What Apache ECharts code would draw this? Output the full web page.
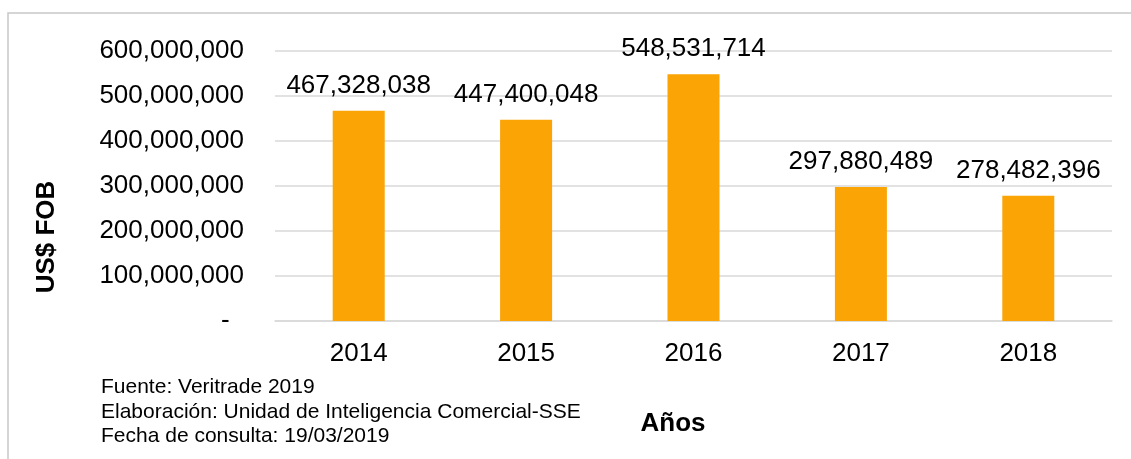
<!DOCTYPE html>
<html>
<head>
<meta charset="utf-8">
<script src="https://cdn.jsdelivr.net/npm/echarts@6/dist/echarts.min.js"></script>
<style>
  html, body { margin: 0; padding: 0; background: #fff; }
  #chart { width: 1131px; height: 459px; }
</style>
</head>
<body>
<div id="chart"></div>
<script>
// Exportaciones por año (US$ FOB)
var years = ['2014', '2015', '2016', '2017', '2018'];
var values = [467328038, 447400048, 548531714, 297880489, 278482396];
var yTicks = { min: 0, max: 600000000, interval: 100000000 };
var notes = [
  'Fuente: Veritrade 2019',
  'Elaboración: Unidad de Inteligencia Comercial-SSE',
  'Fecha de consulta: 19/03/2019'
];

function fmt(v) {
  if (v === 0) return '-  ';
  return String(v).replace(/\B(?=(\d{3})+(?!\d))/g, ',');
}

var chart = echarts.init(document.getElementById('chart'));
var font = 'Arial, "Liberation Sans", sans-serif';

chart.setOption({
  animation: false,
  textStyle: { fontFamily: font },
  grid: { left: 275, right: 19, top: 51, bottom: 138 },
  xAxis: {
    type: 'category',
    data: years,
    axisLine: { lineStyle: { color: '#D9D9D9', width: 1.5 } },
    axisTick: { show: false },
    axisLabel: { color: '#000', fontSize: 26, margin: 20, fontFamily: font }
  },
  yAxis: {
    type: 'value',
    min: yTicks.min, max: yTicks.max, interval: yTicks.interval,
    axisLine: { show: false },
    axisTick: { show: false },
    splitLine: { lineStyle: { color: '#D9D9D9', width: 1.5 } },
    axisLabel: { color: '#000', fontSize: 26, margin: 31, fontFamily: font, formatter: fmt }
  },
  series: [{
    type: 'bar',
    data: values,
    barWidth: 52,
    itemStyle: { color: '#FAA405' },
    label: {
      show: true, position: 'top', distance: 12,
      color: '#000', fontSize: 26, fontFamily: font,
      formatter: function (p) { return fmt(p.value); }
    }
  }],
  graphic: [
    { type: 'rect', shape: { x: 8, y: 13, width: 1300, height: 600 }, style: { fill: 'none', stroke: '#C8C8C8', lineWidth: 1.5 }, silent: true },
    { type: 'text', x: 47, y: 237, rotation: Math.PI / 2,
      style: { text: 'US$ FOB', font: 'bold 26px ' + font, fill: '#000', textAlign: 'center', textVerticalAlign: 'middle' } },
    { type: 'text', x: 673, y: 424,
      style: { text: 'Años', font: 'bold 26px ' + font, fill: '#000', textAlign: 'center', textVerticalAlign: 'middle' } },
    { type: 'text', left: 101, top: 375,
      style: { text: notes.join('\n'), font: '21px ' + font, lineHeight: 24.5, fill: '#000' } }
  ]
});
</script>
</body>
</html>
